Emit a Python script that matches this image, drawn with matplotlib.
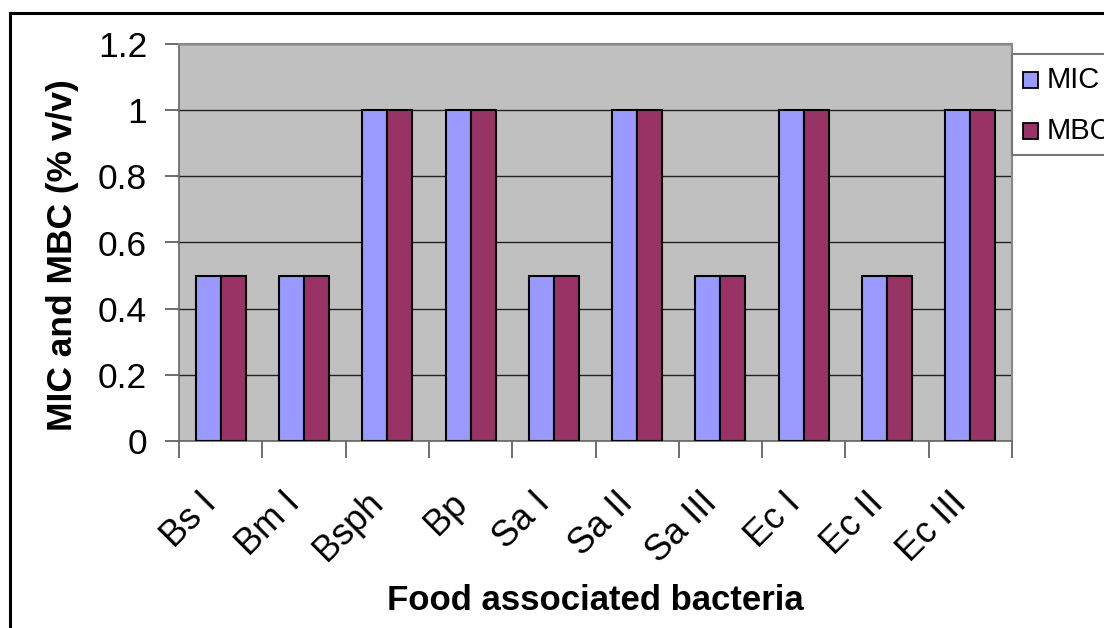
import matplotlib
matplotlib.use("Agg")
import matplotlib.pyplot as plt
import numpy as np
from matplotlib.patches import Rectangle
from matplotlib.lines import Line2D
from matplotlib.transforms import ScaledTranslation

categories = ["Bs I", "Bm I", "Bsph", "Bp", "Sa I", "Sa II", "Sa III", "Ec I", "Ec II", "Ec III"]
mic = [0.5, 0.5, 1, 1, 0.5, 1, 0.5, 1, 0.5, 1]
mbc = [0.5, 0.5, 1, 1, 0.5, 1, 0.5, 1, 0.5, 1]
series_names = ["MIC", "MBC"]
yticks = [0, 0.2, 0.4, 0.6, 0.8, 1, 1.2]
ytick_labels = ["0", "0.2", "0.4", "0.6", "0.8", "1", "1.2"]

plt.rcParams['font.family'] = ['Liberation Sans', 'DejaVu Sans']

W, H = 1104, 628
fig = plt.figure(figsize=(W/100, H/100), dpi=100)
ax = fig.add_axes([179/W, 1-441/H, (1012-179)/W, (441-44)/H])
ax.set_facecolor("#C0C0C0")

x = np.arange(len(categories))
bw = 0.3
c_mic = "#9999FF"
c_mbc = "#993366"
ax.bar(x - bw/2, mic, bw, color=c_mic, edgecolor="black", linewidth=1.5, zorder=3)
ax.bar(x + bw/2, mbc, bw, color=c_mbc, edgecolor="black", linewidth=1.5, zorder=3)

ax.set_xlim(-0.5, len(categories)-0.5)
ax.set_ylim(0, 1.2)
ax.set_yticks(yticks)
ax.set_yticklabels(ytick_labels, fontsize=25.5)
ax.yaxis.grid(True, color="#222222", linewidth=1)
ax.set_axisbelow(True)

ax.set_xticks(np.arange(len(categories)+1) - 0.5)
ax.set_xticklabels([])
ax.set_xticks(x, minor=True)
ax.set_xticklabels(categories, minor=True, rotation=45, ha="right", va="center",
                   rotation_mode="anchor", fontsize=26)
ax.tick_params(axis="x", which="minor", length=0, pad=41)
ax.tick_params(axis="x", which="major", length=12, width=1.2, color="#555555")
ax.tick_params(axis="y", length=10, width=1.2, color="#555555", pad=13)
for lab in ax.get_xticklabels(minor=True):
    lab.set_transform(lab.get_transform() + ScaledTranslation(-9/100, 0, fig.dpi_scale_trans))

for s in ["top", "right"]:
    ax.spines[s].set_color("#888888")
    ax.spines[s].set_linewidth(1.5)
for s in ["left", "bottom"]:
    ax.spines[s].set_color("#666666")
    ax.spines[s].set_linewidth(1.2)

fig.text(63/W, 1-255/H, "MIC and MBC (% v/v)", fontsize=25.5, fontweight="bold",
         rotation=90, ha="center", va="center")
fig.text(595/W, 1-600/H, "Food associated bacteria", fontsize=25, fontweight="bold",
         ha="center", va="center")

# outer frame
fig.add_artist(Line2D([10/W, 10/W], [0, 1-13/H], color="black", linewidth=2.2))
fig.add_artist(Line2D([10/W, 1], [1-13/H, 1-13/H], color="black", linewidth=2.2))

# legend (manual, cropped at right edge)
fig.add_artist(Rectangle((1012/W, 1-155/H), (1104-1012+20)/W, (155-54)/H,
                         transform=fig.transFigure, facecolor="white",
                         edgecolor="#777777", linewidth=1.5, clip_on=False))
for i, (name, col) in enumerate(zip(series_names, [c_mic, c_mbc])):
    yc = 80 + i*51
    fig.add_artist(Rectangle((1023/W, 1-(yc+8)/H), 15/W, 16/H,
                             transform=fig.transFigure, facecolor=col,
                             edgecolor="black", linewidth=1.3))
    fig.text(1047/W, 1-yc/H, name, fontsize=21, ha="left", va="center")

fig.savefig("out.png", dpi=100)
